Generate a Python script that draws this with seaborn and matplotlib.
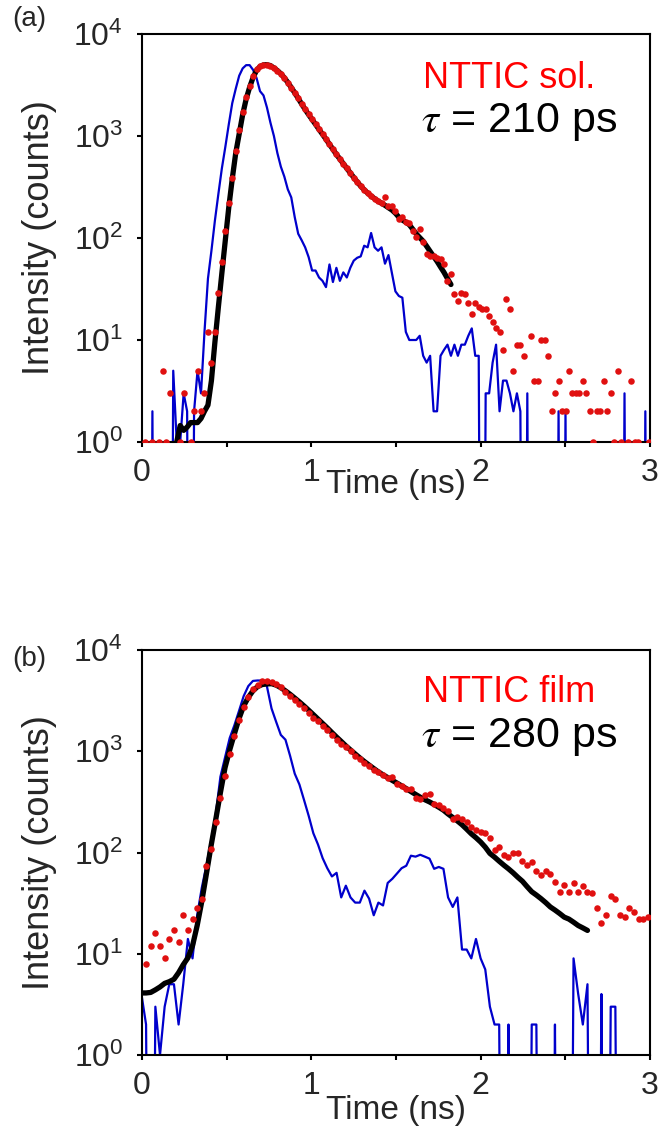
import numpy as np
import pandas as pd
import matplotlib
matplotlib.use("Agg")
import matplotlib.pyplot as plt
import seaborn as sns
from matplotlib.ticker import FixedLocator, MultipleLocator, NullLocator, LogFormatterSciNotation

# ---------------- data: panel (a) NTTIC solution ----------------
T_STEP_A = 0.0205          # ns per histogram bin
red_a = [0, 1, 0, 1, 0, 1, 5, 1, 3, 0,
         0, 1, 3, 0, 1, 2, 5, 2, 3, 12,
         6, 12, 29, 58, 116, 219, 385, 718, 1137, 1730,
         2427, 3070, 3873, 4540, 4856, 5000, 4950, 4900, 4620, 4365,
         4070, 3670, 3310, 2950, 2630, 2340, 2065, 1820, 1640, 1480,
         1320, 1175, 1047, 933, 832, 741, 661, 596, 537, 484,
         437, 389, 351, 324, 295, 275, 257, 243, 229, 221,
         251, 204, 208, 185, 153, 160, 143, 139, 118, 102,
         122, 91, 70, 67, 66, 63, 62, 56, 38, 44,
         28, 24, 29, 28, 23, 18, 23, 21, 20, 20,
         17, 15, 13, 12, 8, 25, 20, 5, 9, 9,
         7, 0, 11, 4, 4, 10, 10, 7, 2, 3,
         4, 2, 2, 5, 3, 3, 3, 4, 3, 2,
         1, 2, 2, 4, 2, 3, 1, 5, 1, 0,
         1, 4, 1, 1, 0, 0, 1]
irf_a = [0, 0, 0, 2, 0, 0, 0, 0, 0, 5,
         1, 1, 3, 2, 0, 2, 5, 3, 12, 40,
         75, 148, 270, 480, 780, 1300, 2100, 2900, 3900, 4600,
         4950, 4950, 4450, 3700, 2750, 2500, 1900, 1350, 1000, 680,
         500, 400, 300, 250, 160, 110, 95, 81, 65, 48,
         48, 41, 38, 33, 55, 37, 51, 38, 46, 41,
         51, 60, 64, 66, 84, 81, 112, 81, 75, 81,
         56, 68, 45, 30, 27, 26, 12, 10, 10, 10,
         11, 7, 6, 7, 2, 2, 7, 8, 9, 7,
         9, 7, 9, 9, 11, 13, 7, 7, 0, 3,
         3, 6, 9, 2, 4, 4, 3, 2, 3, 2,
         0, 3, 0, 0, 0, 0, 0, 0, 0, 0,
         2, 0, 2, 0, 0, 0, 0, 0, 0, 0,
         0, 0, 0, 0, 0, 0, 0, 0, 0, 3,
         0, 0, 0, 0, 0, 2, 0]
FIT_A_START = 10           # first bin of the fit curve
fit_a = [1.0, 1.45, 1.3, 1.4, 1.55, 1.55, 1.55, 1.7, 2.0, 2.3,
         4.0, 9.5, 21, 45, 95, 200, 380, 680, 1050, 1620,
         2300, 3000, 3750, 4400, 4800, 4980, 5000, 4900, 4650, 4380,
         4080, 3720, 3350, 2990, 2650, 2340, 2060, 1820, 1620, 1450,
         1300, 1160, 1040, 930, 830, 740, 660, 595, 535, 482,
         435, 392, 355, 323, 297, 276, 258, 243, 230, 219,
         209, 198, 188, 175, 160, 150, 143, 135, 122, 110,
         101, 93, 83, 74, 66, 59, 52, 46, 40, 35]

# ---------------- data: panel (b) NTTIC film ----------------
T0_B = 0.024
T_STEP_B = 0.02744
red_b = [8, 12, 16, 12, 9, 14, 17, 13, 24, 17,
         22, 28, 35, 74, 108, 200, 348, 570, 938, 1400,
         2040, 2760, 3400, 4130, 4560, 4900, 4950, 4790, 4620, 4270,
         3850, 3500, 3200, 2900, 2650, 2400, 2150, 1980, 1790, 1610,
         1450, 1300, 1180, 1090, 1000, 900, 830, 760, 720, 660,
         620, 580, 545, 556, 479, 454, 427, 421, 346, 340,
         372, 380, 304, 292, 275, 255, 216, 224, 214, 200,
         179, 166, 160, 157, 140, 105, 114, 95, 91, 100,
         98, 82, 75, 81, 65, 60, 65, 62, 51, 41,
         48, 41, 50, 41, 47, 41, 40, 28, 20, 24,
         37, 35, 24, 23, 28, 26, 22, 22, 23]
IRF_B_START = -1
irf_b = [4,
         2, 0, 3, 1, 3, 5, 5, 2, 5, 14,
         9, 24, 45, 75, 130, 240, 560, 870, 1350, 1800,
         2500, 3500, 4400, 4950, 5000, 4990, 4400, 2650, 1950, 1450,
         1300, 900, 600, 470, 330, 230, 155, 120, 88, 70,
         58, 63, 36, 47, 36, 32, 32, 42, 35, 24,
         32, 30, 50, 55, 62, 70, 74, 93, 91, 95,
         91, 87, 69, 72, 69, 36, 29, 36, 11, 11,
         9, 14, 9, 7, 3, 2, 2, 0, 2, 0,
         0, 0, 0, 2, 2, 0, 0, 0, 2, 0,
         0, 0, 9, 4, 2, 5, 0, 0, 4, 0,
         3, 3, 0, 0, 0, 0, 0, 0, 0]
FIT_B_START = -1
fit_b = [4.1,
         4.1, 4.15, 4.4, 4.7, 5.1, 5.3, 5.6, 6.5, 7.8, 9.1,
         12, 19, 33, 62, 117, 212, 390, 690, 1030, 1480,
         2100, 2800, 3400, 3950, 4350, 4560, 4620, 4650, 4500, 4250,
         3950, 3650, 3350, 3070, 2800, 2540, 2300, 2080, 1880, 1700,
         1530, 1380, 1250, 1130, 1030, 940, 860, 790, 730, 675,
         625, 585, 550, 515, 485, 455, 428, 400, 375, 352,
         332, 316, 298, 280, 262, 240, 222, 205, 188, 170,
         153, 140, 127, 113, 98, 90, 82, 75, 69, 63,
         57, 52, 46, 41, 38, 35, 32, 29, 27, 25,
         23, 22, 20.5, 19, 18, 17]

panel_labels = ["(a)", "(b)"]
sample_names = ["NTTIC sol.", "NTTIC film"]
lifetimes = ["210 ps", "280 ps"]
x_ticks = [0, 1, 2, 3]
y_ticks = [1, 10, 100, 1000, 10000]

# ---------------- styling ----------------
sns.set_style("ticks")
plt.rcParams["font.family"] = ["Liberation Sans", "DejaVu Sans"]
plt.rcParams["mathtext.fontset"] = "stix"

RED = "#e01010"
BLUE = "#0000cc"
W, H = 663, 1143
fig = plt.figure(figsize=(W / 100, H / 100), dpi=100)

def frac_rect(l, t, r, b):
    return [l / W, 1 - b / H, (r - l) / W, (b - t) / H]

ax_a = fig.add_axes(frac_rect(142, 34, 650, 442))
ax_b = fig.add_axes(frac_rect(142, 650, 650, 1055))

FLOOR = 1e-6  # zero counts fall off the log axis

def make_frames(t0, step, start, vals):
    idx = np.arange(len(vals)) + start
    return pd.DataFrame({"t": t0 + step * idx, "v": np.asarray(vals, float)})

panels = [
    dict(ax=ax_a,
         red=make_frames(0.0, T_STEP_A, 0, red_a),
         irf=make_frames(0.0, T_STEP_A, 0, irf_a),
         fit=make_frames(0.0, T_STEP_A, FIT_A_START, fit_a),
         top=34, bottom=442, xlab_y=484),
    dict(ax=ax_b,
         red=make_frames(T0_B, T_STEP_B, 0, red_b),
         irf=make_frames(T0_B, T_STEP_B, IRF_B_START, irf_b),
         fit=make_frames(T0_B, T_STEP_B, FIT_B_START, fit_b),
         top=650, bottom=1055, xlab_y=1110),
]

for i, p in enumerate(panels):
    ax = p["ax"]
    irf = p["irf"].copy()
    irf["v"] = np.where(irf["v"] > 0, irf["v"], FLOOR)
    red = p["red"][p["red"]["v"] > 0]
    sns.lineplot(data=irf, x="t", y="v", ax=ax, color=BLUE, lw=1.6,
                 estimator=None, sort=False, zorder=2)
    sns.lineplot(data=p["fit"], x="t", y="v", ax=ax, color="black", lw=3.8,
                 estimator=None, sort=False, zorder=3)
    sns.scatterplot(data=red, x="t", y="v", ax=ax, color=RED, s=22,
                    linewidth=0, zorder=4)
    ax.set_yscale("log")
    ax.set_ylim(1, 1e4)
    ax.set_xlim(0, 3)
    ax.xaxis.set_major_locator(FixedLocator(x_ticks))
    ax.xaxis.set_minor_locator(MultipleLocator(0.5))
    ax.yaxis.set_major_locator(FixedLocator(y_ticks))
    ax.yaxis.set_major_formatter(LogFormatterSciNotation())
    ax.yaxis.set_minor_locator(NullLocator())
    ax.tick_params(axis="both", which="both", direction="out", length=3.6,
                   width=1.5, color="black")
    ax.tick_params(axis="x", which="major", labelsize=23, pad=8)
    ax.tick_params(axis="y", which="major", labelsize=23, pad=10)
    for s in ax.spines.values():
        s.set_linewidth(1.5)
        s.set_color("black")
    h = p["bottom"] - p["top"]
    ax.set_xlabel("Time (ns)", fontsize=24)
    ax.xaxis.set_label_coords(0.5, (p["bottom"] - p["xlab_y"]) / h)
    ax.xaxis.label.set_va("center")
    ax.set_ylabel("Intensity (counts)", fontsize=26)
    ax.yaxis.set_label_coords((40 - 142) / 508, 0.5)
    ax.yaxis.label.set_va("center")

    # annotations
    base1 = 88 if i == 0 else 701.5
    base2 = 132 if i == 0 else 746.5
    fig.text(423 / W, 1 - base1 / H, sample_names[i], color="#ff0000",
             fontsize=26, ha="left", va="baseline")
    fig.text(421 / W, 1 - base2 / H, r"$\tau$ = " + lifetimes[i], color="black",
             fontsize=31, ha="left", va="baseline")
    lab_base = 26 if i == 0 else 666
    fig.text(12 / W, 1 - lab_base / H, panel_labels[i], fontsize=20,
             ha="left", va="baseline")

fig.savefig("out.png", dpi=100)
